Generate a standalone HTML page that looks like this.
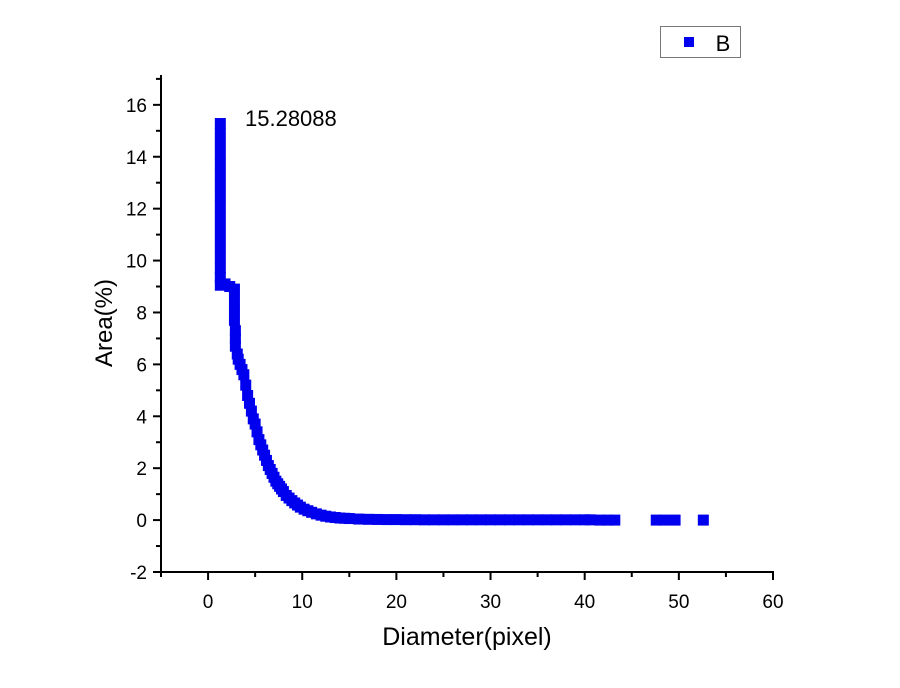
<!DOCTYPE html>
<html><head><meta charset="utf-8"><style>
html,body{margin:0;padding:0;background:#fff;}
svg{display:block;font-family:"Liberation Sans",sans-serif;}
</style></head><body>
<svg id="chart" width="900" height="688" viewBox="0 0 900 688" xmlns="http://www.w3.org/2000/svg">
<rect width="900" height="688" fill="#fff"/>
<g id="marks"></g>
<g id="axes"></g>
<text x="245" y="126" font-size="22">15.28088</text>
<text transform="translate(112,323) rotate(-90)" text-anchor="middle" font-size="24">Area(%)</text>
<text x="467" y="645" text-anchor="middle" font-size="25">Diameter(pixel)</text>
<g>
<rect x="660.5" y="26.5" width="80" height="31" fill="#fff" stroke="#777" stroke-width="1"/>
<rect x="684" y="37" width="10" height="10" fill="#0000ee"/>
<text x="723" y="51" text-anchor="middle" font-size="22">B</text>
</g>
</svg>
<script>
const xs = [1.3,1.3,1.3,1.3,1.3,1.3,1.3,1.3,1.3,1.3,1.3,1.3,1.3,1.3,1.3,1.3,1.3,
  1.8,2.3,2.8,2.8,2.8,2.8,2.9,2.9,2.9,3.1,3.2,3.4,3.6,3.8,4.0,4.2,4.4,4.6,4.8,5.0,5.2,5.4,5.6,5.8,6.0,6.2,6.4,6.6,6.8,7.0,7.2,7.4,7.6,7.8,8.0,8.3,8.6,8.9,9.2,9.5,9.8,10.2,10.6,11,11.5,12,12.5,13,13.5,14,14.5,15,16,17,18,19,20,21,22,23,24,25,26,27,28,29,30,31,32,33,34,35,36,37,38,39,40,40.6,
  41.6,42.4,43.2,47.6,48.5,49.6,52.6];
const ys = [15.28,14.9,14.5,14.1,13.7,13.3,12.9,12.5,12.1,11.7,11.3,10.9,10.5,10.1,9.7,9.35,9.05,
  9.1,9.0,8.9,8.5,8.1,7.7,7.3,7.0,6.7,6.4,6.2,6.0,5.8,5.6,5.2,4.8,4.5,4.2,3.9,3.7,3.4,3.1,2.9,2.7,2.5,2.3,2.1,1.95,1.8,1.65,1.5,1.4,1.3,1.2,1.1,0.95,0.85,0.75,0.66,0.58,0.5,0.42,0.36,0.3,0.24,0.19,0.15,0.12,0.1,0.08,0.07,0.06,0.04,0.03,0.025,0.02,0.02,0.015,0.015,0.01,0.01,0.01,0.01,0.01,0.01,0.01,0.01,0.01,0.01,0.01,0.01,0.01,0.01,0.01,0.01,0.01,0.01,0.01,
  0.0,0.0,0.0,0.0,0.0,0.0,0.0];
const xTicks = [0,10,20,30,40,50,60];
const yTicks = [-2,0,2,4,6,8,10,12,14,16];
const xMin=-5, xMax=60, yMin=-2, yMax=17.15;
const L=161, R=773, T=75, B=572;
function sx(v){return L+(v-xMin)/(xMax-xMin)*(R-L);}
function sy(v){return B-(v-yMin)/(yMax-yMin)*(B-T);}
const NS='http://www.w3.org/2000/svg';
const marks=document.getElementById('marks');
const axes=document.getElementById('axes');
const ms=11;
for(let i=0;i<xs.length;i++){
  const r=document.createElementNS(NS,'rect');
  r.setAttribute('x',sx(xs[i])-ms/2);
  r.setAttribute('y',sy(ys[i])-ms/2);
  r.setAttribute('width',ms);r.setAttribute('height',ms);
  r.setAttribute('fill','#0000ee');
  
  
  marks.appendChild(r);
}
function line(x1,y1,x2,y2,n){
  const l=document.createElementNS(NS,'line');
  l.setAttribute('x1',x1);l.setAttribute('y1',y1);l.setAttribute('x2',x2);l.setAttribute('y2',y2);
  l.setAttribute('stroke','#000');l.setAttribute('stroke-width','2');
  
  
  axes.appendChild(l);
}
function text(x,y,s,anchor,n){
  const t=document.createElementNS(NS,'text');
  t.setAttribute('x',x);t.setAttribute('y',y);t.setAttribute('text-anchor',anchor);
  t.setAttribute('font-size','19');t.textContent=s;
  
  
  axes.appendChild(t);
}
line(L,B,R+1,B,'x-axis-line');
line(L,T,L,B+1,'y-axis-line');
for(let v=xMin; v<=xMax; v+=5){
  const major = xTicks.indexOf(v)>=0;
  line(sx(v),B,sx(v),B+(major?8:5),'x-tick');
}
xTicks.forEach(v=>text(sx(v),B+36,String(v),'middle','x-tick-label'));
for(let v=yMin; v<=17; v+=1){
  const major = yTicks.indexOf(v)>=0;
  line(L,sy(v),L-(major?8:5),sy(v),'y-tick');
}
yTicks.forEach(v=>text(L-14,sy(v)+7,String(v),'end','y-tick-label'));
</script>
</body></html>
